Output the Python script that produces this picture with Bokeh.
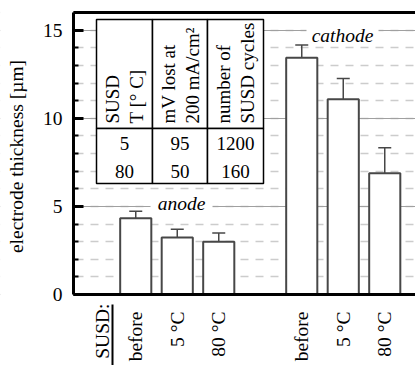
import math
from bokeh.plotting import figure
from bokeh.models import FixedTicker, SingleIntervalTicker, Whisker, TeeHead, ColumnDataSource
from bokeh.core.properties import value
from bokeh.embed import file_html
from bokeh.resources import INLINE

# ---------------- data ----------------
conditions = ["before", "5 °C", "80 °C"]
anode_mean = [4.33, 3.24, 2.99]
anode_err = [0.40, 0.46, 0.50]
cathode_mean = [13.43, 11.08, 6.88]
cathode_err = [0.72, 1.17, 1.45]
group_names = ["anode", "cathode"]
x_axis_title = "SUSD:"
y_axis_title = "electrode thickness [µm]"
y_ticks = [0, 5, 10, 15]

table_header = [["SUSD", "T [° C]"], ["mV lost at", "200 mA/cm²"], ["number of", "SUSD cycles"]]
table_rows = [["5", "95", "1200"], ["80", "50", "160"]]

# ---------------- layout ----------------
W, H = 415, 365
FL, FT, FB = 73, 12, 294          # axes origin left / top border / x-axis line (px)
XPX = 41.5                        # px per x slot
Y_MAX = 16
YPX = (FB - FT) / Y_MAX
X_MAX = (W - FL) / XPX

def xd(px):
    return (px - FL) / XPX

def yd(px):
    return (FB - px) / YPX

anode_pos = [1.5, 2.5, 3.5]
cathode_pos = [5.5, 6.5, 7.5]
positions = anode_pos + cathode_pos
means = anode_mean + cathode_mean
errs = anode_err + cathode_err

FONT = value("Liberation Serif")
FS = "19.5px"      # serif renders up to this size in the target browser
DARK = "#474747"

p = figure(width=W, height=H, x_range=(xd(0), xd(W)), y_range=(yd(H), yd(0)),
           output_backend="svg", toolbar_location=None,
           min_border_left=0, min_border_right=0, min_border_top=0, min_border_bottom=0)
p.outline_line_color = None
p.background_fill_color = "white"
p.border_fill_color = "white"

# grid
p.xgrid.visible = False
p.ygrid.bounds = (0, Y_MAX)
p.ygrid.grid_line_color = "#a0a0a0"
p.ygrid.grid_line_width = 1
p.ygrid.minor_grid_line_color = "#cccccc"
p.ygrid.minor_grid_line_dash = "8 7"
p.ygrid.minor_grid_line_width = 1.3

# y axis at x = 0
yt = SingleIntervalTicker(interval=5, num_minor_ticks=5)
p.yaxis.fixed_location = 0
p.yaxis.ticker = yt
p.ygrid.ticker = yt
p.yaxis.bounds = (0, Y_MAX)
p.yaxis.axis_line_width = 3
p.yaxis.axis_line_color = "black"
p.yaxis.major_tick_in = 10
p.yaxis.major_tick_out = 0
p.yaxis.major_tick_line_width = 3
p.yaxis.minor_tick_in = 5
p.yaxis.minor_tick_out = 0
p.yaxis.minor_tick_line_width = 2
p.yaxis.major_label_text_color = None

# x axis at y = 0
p.xaxis.fixed_location = 0
p.xaxis.bounds = (0, X_MAX)
p.xaxis.ticker = FixedTicker(ticks=positions)
p.xaxis.major_label_text_color = None
p.xaxis.major_tick_line_color = None
p.xaxis.minor_tick_line_color = None
p.xaxis.axis_line_width = 3
p.xaxis.axis_line_color = "black"

# mask grid left of the y axis
p.quad(left=[xd(-20)], right=[0], bottom=[yd(H + 20)], top=[Y_MAX + 1], fill_color="white",
       line_color=None)

# top border
p.segment(x0=[0], y0=[Y_MAX], x1=[X_MAX], y1=[Y_MAX], line_color="black", line_width=3)

# tick labels and axis titles (serif text)
p.text(x=[xd(62)] * len(y_ticks), y=y_ticks, text=[str(t) for t in y_ticks],
       text_align="right", text_baseline="middle",
       text_font=FONT, text_font_size=FS, text_color="black")
p.text(x=[xd(16)], y=[yd(156)], text=[y_axis_title], angle=math.pi / 2,
       text_align="center", text_baseline="middle",
       text_font=FONT, text_font_size=FS, text_color="black")
p.text(x=positions, y=[yd(311)] * len(positions), text=conditions * 2, angle=math.pi / 2,
       text_align="right", text_baseline="middle",
       text_font=FONT, text_font_size=FS, text_color="black")
p.text(x=[xd(102)], y=[yd(303)], text=[x_axis_title], angle=math.pi / 2,
       text_align="right", text_baseline="middle",
       text_font=FONT, text_font_size=FS, text_color="black")
p.segment(x0=[xd(112)], y0=[yd(304)], x1=[xd(112)], y1=[yd(H)],
          line_color="black", line_width=2)

# bars
src = ColumnDataSource(dict(x=positions, top=means,
                            lo=[m - e for m, e in zip(means, errs)],
                            hi=[m + e for m, e in zip(means, errs)]))
p.vbar(x="x", top="top", bottom=0, width=0.75, source=src,
       fill_color="white", line_color=DARK, line_width=2)
p.add_layout(Whisker(base="x", lower="lo", upper="hi", source=src,
                     line_color=DARK, line_width=1.5,
                     upper_head=TeeHead(size=13, line_color=DARK, line_width=1.5),
                     lower_head=TeeHead(size=13, line_color=DARK, line_width=1.5)))

# group labels sitting on the major grid lines
gx = [xd(181), xd(342)]
p.rect(x=gx, y=[5, 15], width=[62 / XPX, 72 / XPX], height=[8 / YPX] * 2,
       fill_color="white", line_color=None)
p.text(x=gx, y=[yd(203), yd(35)], text=group_names,
       text_align="center", text_baseline="middle",
       text_font=FONT, text_font_size=FS, text_font_style="italic", text_color="black")

# inset table
T_T, T_M, T_B = 19, 128, 183
col_edges = [96, 152, 207, 263]
p.quad(left=[xd(col_edges[i]) for i in range(3)] * 2,
       right=[xd(col_edges[i + 1]) for i in range(3)] * 2,
       top=[yd(T_T)] * 3 + [yd(T_M)] * 3,
       bottom=[yd(T_M)] * 3 + [yd(T_B)] * 3,
       fill_color="white", line_color="black", line_width=1.5)
hx, hy, ht = [], [], []
for i, lines in enumerate(table_header):
    c = (col_edges[i] + col_edges[i + 1]) / 2
    for j, t in enumerate(lines):
        hx.append(xd(c - 12 + 24 * j))
        hy.append(yd(123))
        ht.append(t)
p.text(x=hx, y=hy, text=ht, angle=math.pi / 2, text_align="left", text_baseline="middle",
       text_font=FONT, text_font_size="19px", text_color="black")
rx, ry, rt = [], [], []
for r, row in enumerate(table_rows):
    for i, t in enumerate(row):
        c = (col_edges[i] + col_edges[i + 1]) / 2
        rx.append(xd(c))
        ry.append(yd(143 + 28 * r))
        rt.append(t)
p.text(x=rx, y=ry, text=rt, text_align="center", text_baseline="middle",
       text_font=FONT, text_font_size="19px", text_color="black")

open("out.html", "w").write(file_html(p, INLINE))
